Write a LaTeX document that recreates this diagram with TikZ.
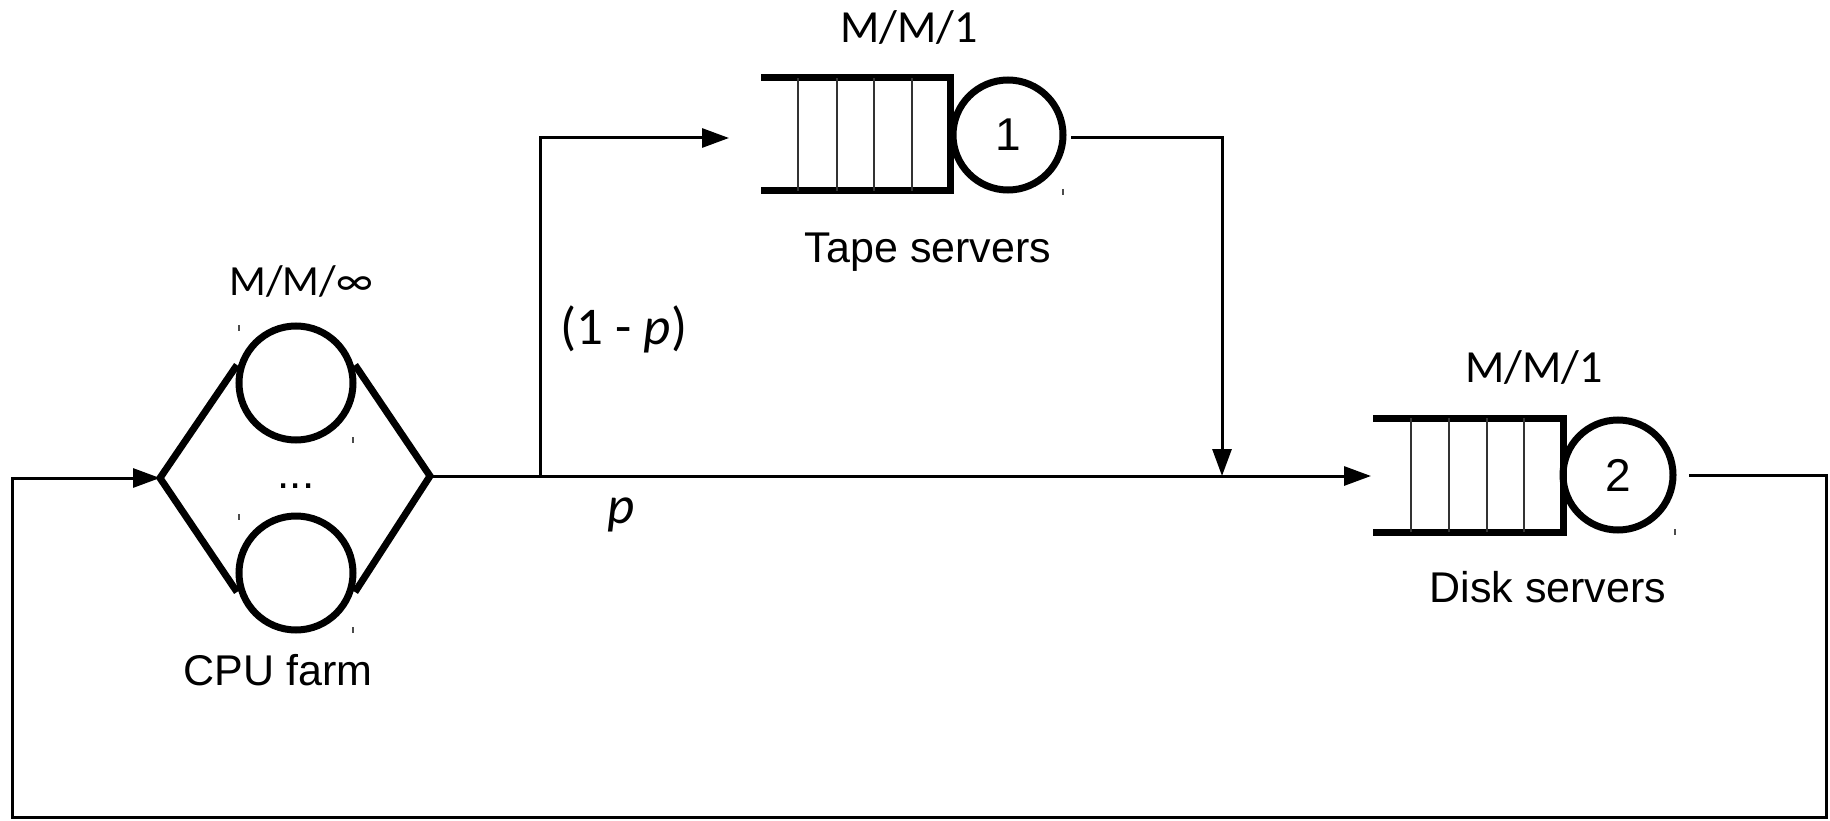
\documentclass[tikz,border=0pt]{standalone}
\usepackage{fontspec}
\setmainfont{Liberation Sans}
\newfontfamily\carl{Carlito}
\usetikzlibrary{arrows.meta}
\begin{document}
\begin{tikzpicture}[x=1pt,y=-1pt,
  flowarr/.style={line width=3pt,-{Triangle[length=27pt,width=19pt]}},
  thick box/.style={line width=7pt},
  server/.style={circle,draw,line width=7pt,inner sep=0pt},
  divider/.style={line width=1.5pt,black!80},
  tick/.style={line width=1.2pt,black!70},
  lbl/.style={font=\fontsize{43}{50}\selectfont,anchor=base,inner sep=0pt},
  clbl/.style={font=\carl\fontsize{46}{54}\selectfont,anchor=base,inner sep=0pt},
  plbl/.style={font=\carl\fontsize{53}{60}\selectfont,anchor=base,inner sep=0pt},
  num/.style={font=\fontsize{46}{52}\selectfont,inner sep=0pt}]
\useasboundingbox (0,0) rectangle (1830,821);
% CPU farm
\coordinate (L) at (160,478);
\coordinate (R) at (430,476);
\node[server,minimum size=114pt] (c1) at (296,383) {};
\node[server,minimum size=114pt] (c2) at (296,573) {};
\draw[thick box,line join=miter] (237,365) -- (L) -- (237,592);
\draw[thick box,line join=miter] (355,365) -- (R) -- (355,592);
\node[font=\fontsize{44}{50}\selectfont,anchor=base,inner sep=0pt] (dots) at (296,488) {...};
\draw[tick] (239,325) -- (239,331);
\draw[tick] (353,437) -- (353,443);
\draw[tick] (239,514) -- (239,520);
\draw[tick] (353,627) -- (353,633);
\node[clbl,font=\carl\fontsize{43}{50}\selectfont] (mminf) at (301,295) {M/M/∞};
\node[lbl] (cpu) at (278,685) {CPU farm};
% Tape queue
\draw[thick box,line join=miter] (761,78) -- (950,78) -- (950,191) -- (761,191);
\foreach \x in {798,837,874,912} \draw[divider] (\x,78) -- (\x,191);
\node[server,minimum size=110pt] (s1) at (1008,135) {};
\node[num] at (s1) {1};
\draw[tick] (1063,189) -- (1063,195);
\node[clbl] (mm1a) at (909,43) {M/M/1};
\node[lbl] (tape) at (928,262) {Tape servers};
% Disk queue
\draw[thick box,line join=miter] (1373,418) -- (1563,418) -- (1563,532) -- (1373,532);
\foreach \x in {1411,1449,1487,1524} \draw[divider] (\x,418) -- (\x,532);
\node[server,minimum size=110pt] (s2) at (1618,475) {};
\node[num] at (s2) {2};
\draw[tick] (1675,529) -- (1675,535);
\node[clbl] (mm1b) at (1534,382) {M/M/1};
\node[lbl] (disk) at (1548,602) {Disk servers};
% connectors
\coordinate (tapein) at (729,138);
\coordinate (tapeout) at (1071,138);
\coordinate (diskin) at (1371,476);
\coordinate (diskout) at (1689,475);
\coordinate (split) at (540,476);
\coordinate (merge) at (1222,476);
\draw[flowarr] (R) -- (diskin);
\draw[flowarr] (split) -- (540,138) -- (tapein);
\draw[flowarr] (tapeout) -- (1222,138) -- (merge);
\draw[flowarr] (diskout) -- (1826,475) -- (1826,817) -- (12,817) -- (12,478) -- (L);
\node[plbl] (onep) at (624,344) {(1 - \textit{p})};
\node[plbl] (p) at (621,523) {\textit{p}};
\end{tikzpicture}
\end{document}
